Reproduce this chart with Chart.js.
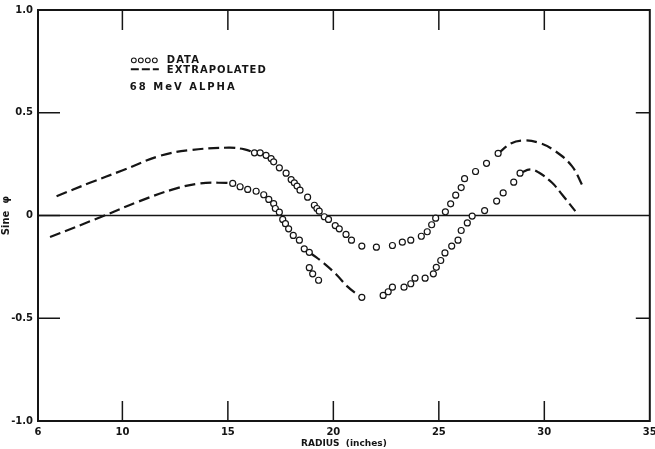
<!DOCTYPE html>
<html>
<head>
<meta charset="utf-8">
<script src="https://cdn.jsdelivr.net/npm/chart.js@4"></script>
<style>
  body { margin: 0; background: #fff; }
  #wrap { width: 655px; height: 449px; }
</style>
</head>
<body>
<div id="wrap"><canvas id="chart"></canvas></div>
<script>
// measured data (radius in inches, sine phi)
const upperRadius = [16.26,16.53,16.81,17.05,17.17,17.44,17.76,18.00,18.15,18.28,18.42,18.78,19.10,19.22,19.33,19.57,19.77,20.09,20.28,20.60,20.86,21.35,22.04,22.80,23.27,23.67,24.17,24.45,24.66,24.85,25.31,25.56,25.80,26.06,26.22,26.74,27.26,27.81];
const upperSine   = [0.305,0.305,0.293,0.277,0.261,0.232,0.206,0.175,0.159,0.143,0.123,0.089,0.050,0.034,0.021,-0.006,-0.019,-0.049,-0.065,-0.092,-0.120,-0.149,-0.154,-0.146,-0.130,-0.120,-0.101,-0.079,-0.045,-0.013,0.018,0.057,0.099,0.136,0.179,0.214,0.254,0.302];

const lowerRadius = [15.23,15.58,15.94,16.34,16.70,16.94,17.17,17.25,17.44,17.60,17.73,17.88,18.10,18.39,18.62,18.86,18.86,19.02,19.30,21.35,22.36,22.60,22.80,23.35,23.67,23.87,24.35,24.74,24.88,25.09,25.29,25.61,25.91,26.06,26.35,26.58,27.17,27.74,28.05,28.55,28.85];
const lowerSine   = [0.156,0.140,0.127,0.118,0.101,0.078,0.058,0.034,0.016,-0.019,-0.040,-0.065,-0.097,-0.120,-0.162,-0.179,-0.254,-0.284,-0.315,-0.398,-0.389,-0.371,-0.349,-0.349,-0.332,-0.305,-0.305,-0.284,-0.252,-0.219,-0.182,-0.149,-0.120,-0.073,-0.036,-0.003,0.024,0.070,0.110,0.162,0.206];

// extrapolated curves
const upperLeftRadius  = [6.88,8.46,10.02,11.77,13.19,15.03,15.79,16.26];
const upperLeftSine    = [0.094,0.159,0.220,0.290,0.318,0.330,0.322,0.305];
const upperRightRadius = [27.81,28.41,28.95,29.74,30.52,31.31,31.82];
const upperRightSine   = [0.302,0.350,0.365,0.354,0.313,0.240,0.143];
const lowerLeftRadius  = [6.57,9.01,10.82,12.40,13.66,14.92,15.23];
const lowerLeftSine    = [-0.105,-0.006,0.070,0.127,0.156,0.159,0.156];
const lowerMidRadius   = [18.95,19.57,20.14,20.66,21.13,21.35];
const lowerMidSine     = [-0.185,-0.234,-0.287,-0.345,-0.384,-0.398];
const lowerRightRadius = [28.85,29.34,29.74,30.37,30.84,31.47];
const lowerRightSine   = [0.206,0.224,0.209,0.159,0.102,0.021];

const xTicks = [6,10,15,20,25,30,35];
const yTicks = [-1.0,-0.5,0,0.5,1.0];

const ink = '#151515';
const font = 'DejaVu Sans';

function pts(xs, ys){
    return xs.map((x, i) => ({x: x, y: ys[i]}));
}

function dataSet(xs, ys){
    return {
        data: pts(xs, ys),
        showLine: false,
        pointRadius: 3,
        pointBorderWidth: 1.2,
        pointBackgroundColor: '#fff',
        pointBorderColor: ink
    };
}

function extraSet(xs, ys){
    return {
        data: pts(xs, ys),
        showLine: true,
        pointRadius: 0,
        borderColor: ink,
        borderWidth: 2.2,
        borderDash: [11, 5],
        tension: 0.4,
        fill: false
    };
}

function line(ctx, x1, y1, x2, y2){
    ctx.beginPath(); ctx.moveTo(x1, y1); ctx.lineTo(x2, y2); ctx.stroke();
}

// frame, zero line, inward ticks and the key
const framePlugin = {
    id: 'frame',
    beforeDatasetsDraw(chart){
        const {ctx, chartArea: a, scales: {x, y}} = chart;
        ctx.save();
        ctx.strokeStyle = ink;
        ctx.lineWidth = 1.5;
        line(ctx, a.left, y.getPixelForValue(0), a.right, y.getPixelForValue(0));
        ctx.lineWidth = 2;
        ctx.strokeRect(a.left, a.top, a.right - a.left, a.bottom - a.top);
        ctx.lineWidth = 1.5;
        xTicks.slice(1, -1).forEach(v => {
            const px = x.getPixelForValue(v);
            line(ctx, px, a.bottom, px, a.bottom - 20);
            line(ctx, px, a.top, px, a.top + 20);
        });
        [0.5, 0, -0.5].forEach(v => {
            const py = y.getPixelForValue(v);
            line(ctx, a.left, py, a.left + 22, py);
            if (v !== 0) line(ctx, a.right, py, a.right - 14, py);
        });

        // key
        const kx = x.getPixelForValue(10.4);
        const ky = y.getPixelForValue(0.755);
        ctx.lineWidth = 1.1;
        for (let i = 0; i < 4; i++){
            ctx.beginPath();
            ctx.arc(kx + 3 + i * 7, ky, 2.4, 0, Math.PI * 2);
            ctx.stroke();
        }
        ctx.lineWidth = 2;
        ctx.setLineDash([8, 3]);
        line(ctx, kx, ky + 9, kx + 28, ky + 9);
        ctx.setLineDash([]);
        ctx.fillStyle = ink;
        ctx.font = 'bold 10px ' + font;
        ctx.letterSpacing = '1px';
        ctx.textBaseline = 'middle';
        ctx.fillText('DATA', kx + 36, ky);
        ctx.fillText('EXTRAPOLATED', kx + 36, ky + 10);
        ctx.letterSpacing = '2px';
        ctx.fillText('68 MeV ALPHA', kx - 1, ky + 27);
        ctx.restore();
    }
};

new Chart(document.getElementById('chart').getContext('2d'), {
    type: 'scatter',
    data: {
        datasets: [
            dataSet(upperRadius, upperSine),
            dataSet(lowerRadius, lowerSine),
            extraSet(upperLeftRadius, upperLeftSine),
            extraSet(upperRightRadius, upperRightSine),
            extraSet(lowerLeftRadius, lowerLeftSine),
            extraSet(lowerMidRadius, lowerMidSine),
            extraSet(lowerRightRadius, lowerRightSine)
        ]
    },
    options: {
        responsive: true,
        maintainAspectRatio: false,
        animation: false,
        layout: {padding: {top: 10, right: 2, left: 0, bottom: 0}},
        plugins: {legend: {display: false}, tooltip: {enabled: false}},
        scales: {
            x: {
                type: 'linear',
                min: 6, max: 35,
                afterBuildTicks: s => { s.ticks = xTicks.map(v => ({value: v})); },
                afterFit: s => { s.height = 28; s.paddingLeft = 0; s.paddingRight = 0; },
                grid: {display: false, drawTicks: false},
                border: {display: false},
                ticks: {color: ink, padding: 5, font: {family: font, size: 10, weight: 'bold'}, maxRotation: 0},
                title: {display: true, text: 'RADIUS  (inches)', color: ink, padding: {top: 0, bottom: 0},
                        font: {family: font, size: 9, weight: 'bold'}}
            },
            y: {
                min: -1, max: 1,
                afterBuildTicks: s => { s.ticks = yTicks.map(v => ({value: v})); },
                afterFit: s => { s.width = 38; s.paddingTop = 0; s.paddingBottom = 0; },
                grid: {display: false, drawTicks: false},
                border: {display: false},
                ticks: {color: ink, padding: 5, font: {family: font, size: 10, weight: 'bold'},
                        callback: v => v === 0 ? '0' : v.toFixed(1)},
                title: {display: true, text: 'Sine  φ', color: ink, padding: {top: 0, bottom: 0},
                        font: {family: font, size: 10, weight: 'bold'}}
            }
        }
    },
    plugins: [framePlugin]
});
</script>
</body>
</html>
